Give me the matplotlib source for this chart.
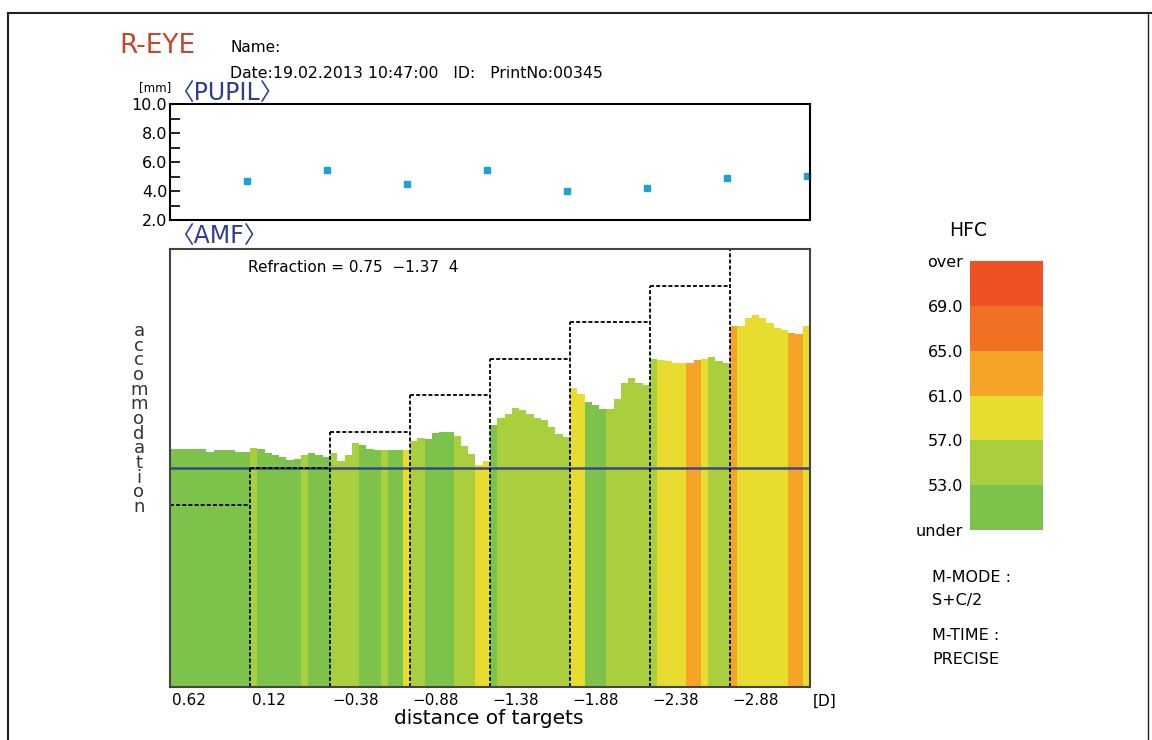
import numpy as np
import matplotlib.pyplot as plt
from matplotlib.colors import ListedColormap, BoundaryNorm

plt.rcParams['font.family'] = ['DejaVu Sans', 'Noto Sans CJK JP']

W, H = 1152, 740

# targets [D] and the stimulus level (in the AMF scale) each one asks for
target_labels = ['0.62', '0.12', '−0.38', '−0.88', '−1.38', '−1.88', '−2.38', '−2.88']
target_levels = [2.5, 3.0, 3.5, 4.0, 4.5, 5.0, 5.5, 6.0]
refraction_level = 3.0

# pupil diameter at the end of each target [mm]
pupil_mm = [4.67, 5.43, 4.50, 5.43, 4.00, 4.23, 4.93, 5.02]

# accommodation response, 11 samples per target
amf_1 = [3.26, 3.26, 3.26, 3.26, 3.26, 3.22, 3.24, 3.25, 3.24, 3.22, 3.22]
amf_2 = [3.28, 3.26, 3.20, 3.18, 3.15, 3.11, 3.13, 3.18, 3.21, 3.18, 3.15]
amf_3 = [3.20, 3.10, 3.18, 3.34, 3.31, 3.26, 3.24, 3.24, 3.24, 3.24, 3.24]
amf_4 = [3.37, 3.41, 3.40, 3.48, 3.49, 3.49, 3.44, 3.30, 3.19, 3.04, 3.10]
amf_5 = [3.59, 3.69, 3.74, 3.82, 3.79, 3.74, 3.68, 3.66, 3.56, 3.47, 3.43]
amf_6 = [4.10, 4.01, 3.90, 3.86, 3.81, 3.81, 3.95, 4.16, 4.23, 4.17, 4.14]
amf_7 = [4.50, 4.48, 4.47, 4.44, 4.44, 4.44, 4.48, 4.49, 4.52, 4.47, 4.44]
amf_8 = [4.95, 4.95, 5.05, 5.10, 5.05, 4.99, 4.92, 4.89, 4.85, 4.83, 4.94]

# high frequency component of each sample
hfc_1 = [51, 51, 51, 51, 51, 51, 51, 51, 51, 51, 51]
hfc_2 = [55, 51, 51, 51, 51, 51, 51, 55, 51, 51, 51]
hfc_3 = [55, 55, 55, 55, 51, 51, 51, 55, 51, 51, 59]
hfc_4 = [55, 55, 51, 51, 51, 51, 55, 55, 55, 59, 59]
hfc_5 = [51, 55, 55, 55, 55, 55, 55, 55, 55, 55, 55]
hfc_6 = [59, 59, 51, 51, 51, 55, 55, 55, 55, 55, 55]
hfc_7 = [55, 59, 59, 59, 59, 63, 63, 59, 55, 55, 55]
hfc_8 = [63, 59, 59, 59, 59, 59, 59, 59, 63, 63, 59]

hfc_bounds = [49, 53, 57, 61, 65, 69, 73]
hfc_labels = ['under', '53.0', '57.0', '61.0', '65.0', '69.0', 'over']
hfc_colors = ['#7dc24b', '#a9cf3e', '#e8dd2f', '#f6a427', '#f07124', '#ee5224']

amf = np.concatenate([amf_1, amf_2, amf_3, amf_4, amf_5, amf_6, amf_7, amf_8])
hfc = np.concatenate([hfc_1, hfc_2, hfc_3, hfc_4, hfc_5, hfc_6, hfc_7, hfc_8])
n_tg = len(target_levels)
per_tg = len(amf_1)

cmap = ListedColormap(hfc_colors)
norm = BoundaryNorm(hfc_bounds, cmap.N)


def box(x0, y0, x1, y1):
    # pixel box (top-left origin) -> figure fraction rect
    return [x0 / W, 1 - y1 / H, (x1 - x0) / W, (y1 - y0) / H]


def ftext(x, y, s, **kw):
    kw.setdefault('va', 'center')
    fig.text(x / W, 1 - y / H, s, **kw)


fig = plt.figure(figsize=(W / 100, H / 100), dpi=100)

# page frame
fig.add_artist(plt.Line2D([8 / W, 1], [1 - 13 / H, 1 - 13 / H], color='#222', lw=1.5))
fig.add_artist(plt.Line2D([8 / W, 8 / W], [0, 1 - 13 / H], color='#222', lw=1.5))
fig.add_artist(plt.Line2D([1148 / W, 1148 / W], [0, 1 - 13 / H], color='#222', lw=1.0))

ftext(119, 46, 'R-EYE', color='#c8452e', fontsize=19)
ftext(230, 48, 'Name:', fontsize=11)
ftext(230, 74, 'Date:19.02.2013 10:47:00   ID:   PrintNo:00345', fontsize=11.3)
ftext(171, 88, '[mm]', fontsize=8.5, ha='right')
ftext(170, 94, '〈PUPIL〉', color='#2e3d94', fontsize=17)
ftext(170, 237, '〈AMF〉', color='#2e3d94', fontsize=17)

# pupil panel
ax_p = fig.add_axes(box(170, 104, 810, 220))
ax_p.plot(np.arange(n_tg) + 0.96, pupil_mm, 's', color='#1ea0da', ms=4.5, clip_on=False)
ax_p.set_xlim(0, n_tg)
ax_p.set_ylim(2, 10)
ax_p.set_xticks([])
ax_p.set_yticks([2, 4, 6, 8, 10])
ax_p.set_yticklabels(['2.0', '4.0', '6.0', '8.0', '10.0'], fontsize=11.5)
ax_p.set_yticks([3, 5, 7, 9], minor=True)
ax_p.tick_params(axis='y', which='both', direction='in', length=7, width=1.2, pad=2)
for s in ax_p.spines.values():
    s.set_linewidth(1.5)

# accommodation panel
ax = fig.add_axes(box(170, 249, 810, 687))
x = np.arange(n_tg * per_tg) / per_tg
ax.bar(x, amf, width=1 / per_tg, align='edge', color=cmap(norm(hfc)), linewidth=0)
ax.axhline(refraction_level, color='#3a4880', lw=1.8)
dash = (0, (2.2, 1.2))
ax.hlines(target_levels, np.arange(n_tg), np.arange(n_tg) + 1, colors='black', lw=1.3, linestyles=[dash])
ax.vlines(np.arange(1, n_tg), 0, target_levels[1:], colors='black', lw=1.3, linestyles=[dash])
ax.set_xlim(0, n_tg)
ax.set_ylim(0, 6)
ax.set_xticks([])
ax.set_yticks([])
for s in ax.spines.values():
    s.set_linewidth(1.5)
    s.set_color('#444')
ax.text(0.97, 5.75, 'Refraction = 0.75  −1.37  4', fontsize=11, va='center')

for i, lab in enumerate(target_labels):
    ax.text(i + 0.03, -0.19, lab, fontsize=11, va='center', ha='left')
ax.text(n_tg + 0.04, -0.19, '[D]', fontsize=11, va='center', ha='left')
ftext(489, 719, 'distance of targets', fontsize=14.5, ha='center')
ftext(139, 419, '\n'.join('accommodation'), fontsize=13, ha='center',
      linespacing=0.76, multialignment='center', color='#333')

# HFC legend
ftext(968, 231, 'HFC', fontsize=13.5, ha='center')
cax = fig.add_axes(box(970, 261, 1043, 530))
cb = fig.colorbar(plt.cm.ScalarMappable(norm=norm, cmap=cmap), cax=cax, ticks=hfc_bounds)
cb.outline.set_visible(False)
cax.yaxis.set_ticks_position('left')
cax.set_yticklabels(hfc_labels, fontsize=11.5)
cax.tick_params(length=0, pad=5)

ftext(932, 577, 'M-MODE :', fontsize=11.5)
ftext(932, 601, 'S+C/2', fontsize=11.5)
ftext(932, 636, 'M-TIME :', fontsize=11.5)
ftext(932, 660, 'PRECISE', fontsize=11.5)

fig.savefig('out.png', dpi=100)
